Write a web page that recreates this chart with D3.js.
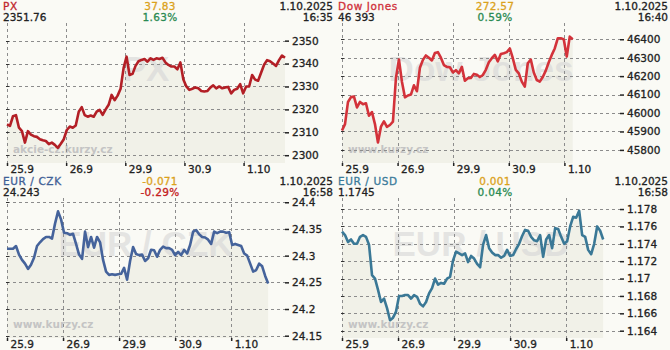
<!DOCTYPE html>
<html>
<head>
<meta charset="utf-8">
<script src="https://cdn.jsdelivr.net/npm/d3@7"></script>
<style>
  body { margin: 0; background: #fafaf5; }
  svg { display: block; }
</style>
</head>
<body>
<div id="chart"></div>
<script>
// day labels, same for all four panels
var days = ["25.9", "26.9", "29.9", "30.9", "1.10"];

// header texts
var titles = ["PX", "Dow Jones", "EUR / CZK", "EUR / USD"];
var lastValues = ["2351.76", "46 393", "24.243", "1.1745"];
var changes = ["37.83", "272.57", "-0.071", "0.001"];
var percents = ["1.63%", "0.59%", "-0.29%", "0.04%"];
var dates = ["1.10.2025", "1.10.2025", "1.10.2025", "1.10.2025"];
var times = ["16:35", "16:40", "16:58", "16:58"];
var sources = ["akcie-cz.kurzy.cz", "www.kurzy.cz", "www.kurzy.cz", "www.kurzy.cz"];

// PX index, evenly spaced samples
var pxValues = [
  2313.5, 2312.8, 2317, 2317.5, 2312, 2310.5, 2305.5, 2310.5, 2309, 2308.3,
  2308, 2307, 2306.5, 2306.2, 2304.8, 2305.5, 2304.5, 2303.2, 2305, 2307,
  2311, 2312.5, 2312, 2313, 2319, 2321, 2317.5, 2316.8, 2317.3, 2316.8,
  2319, 2319.8, 2317.6, 2320, 2322, 2326.3, 2324, 2326, 2329, 2338,
  2343, 2335, 2335.5, 2339, 2341, 2341.6, 2342, 2340.8, 2342.3, 2341.6,
  2342.3, 2342, 2342.5, 2340.5, 2339.4, 2338.7, 2338.7, 2337.5, 2340.5, 2333,
  2330, 2328.5, 2329, 2329.6, 2329.2, 2328, 2327.8, 2328, 2329.5, 2330.5,
  2329.2, 2330, 2329.2, 2329.6, 2329.8, 2327, 2328.5, 2329, 2331, 2327,
  2330, 2330, 2335, 2333, 2332.5, 2336, 2339.5, 2341.5, 2341, 2340,
  2339, 2341.5, 2343.5, 2342.5
];
var pxTicks = [2300, 2310, 2320, 2330, 2340, 2350];

// Dow Jones
var djValues = [
  45905, 45940, 46060, 46086, 46089, 46030, 46060, 46048, 46053, 45985,
  46005, 45940, 45840, 45926, 45955, 45925, 45935, 45953, 46190, 46290,
  46170, 46085, 46095, 46100, 46150, 46118, 46245, 46288, 46312, 46300,
  46285, 46325, 46330, 46300, 46260, 46250, 46248, 46220, 46232, 46215,
  46250, 46175, 46189, 46190, 46212, 46208, 46195, 46206, 46234, 46275,
  46297, 46315, 46280, 46320, 46324, 46330, 46350, 46297, 46234, 46215,
  46170, 46143, 46270, 46290, 46220, 46179, 46170, 46195, 46230, 46275,
  46315, 46350, 46405, 46405, 46400, 46306, 46414, 46400
];
var djTicks = [45800, 45900, 46000, 46100, 46200, 46300, 46400];

// EUR / CZK
var czkValues = [
  24.313, 24.313, 24.313, 24.318, 24.302, 24.292, 24.285, 24.275, 24.283, 24.296,
  24.318, 24.325, 24.331, 24.335, 24.335, 24.332, 24.36, 24.383, 24.368, 24.343,
  24.342, 24.339, 24.341, 24.322, 24.302, 24.294, 24.345, 24.316, 24.335, 24.315,
  24.335, 24.325, 24.292, 24.27, 24.264, 24.265, 24.264, 24.265, 24.266, 24.277,
  24.255, 24.29, 24.316, 24.303, 24.301, 24.302, 24.29, 24.295, 24.311, 24.31,
  24.298, 24.311, 24.317, 24.314, 24.314, 24.311, 24.301, 24.307, 24.301, 24.311,
  24.304, 24.32, 24.345, 24.348, 24.34, 24.335, 24.334, 24.33, 24.322, 24.345,
  24.342, 24.345, 24.345, 24.343, 24.344, 24.32, 24.322, 24.32, 24.318, 24.304,
  24.3, 24.285, 24.27, 24.273, 24.285, 24.28, 24.262, 24.248
];
var czkTicks = [24.15, 24.2, 24.25, 24.3, 24.35, 24.4];

// EUR / USD
var usdValues = [
  1.1754, 1.1750, 1.1742, 1.1745, 1.1740, 1.1740, 1.1748, 1.1750, 1.1748, 1.1739,
  1.1704, 1.1700, 1.1687, 1.1673, 1.1677, 1.1666, 1.1652, 1.1655, 1.1662, 1.1680,
  1.1680, 1.1681, 1.1681, 1.1677, 1.1681, 1.1679, 1.1671, 1.1668, 1.1673, 1.1683,
  1.1689, 1.1700, 1.1693, 1.1695, 1.1694, 1.1700, 1.1702, 1.1721, 1.1731, 1.1729,
  1.1727, 1.1729, 1.1719, 1.1726, 1.1723, 1.1717, 1.1713, 1.1739, 1.1750, 1.1735,
  1.1730, 1.1727, 1.1727, 1.1724, 1.1726, 1.1733, 1.1726, 1.1727, 1.1734, 1.1740,
  1.1749, 1.1756, 1.1755, 1.1748, 1.1744, 1.1743, 1.1750, 1.1725, 1.1745, 1.1750,
  1.1735, 1.1758, 1.1757, 1.1748, 1.1740, 1.1743, 1.1760, 1.1771, 1.1770, 1.1778,
  1.1750, 1.1748, 1.1733, 1.1728, 1.1740, 1.1760, 1.1755, 1.1745
];
var usdTicks = [1.164, 1.166, 1.168, 1.17, 1.172, 1.174, 1.176, 1.178];

var W = 670, H = 350;
var plot = {left: 7, right: 285, top: 23, bottom: 163};
var font = "'DejaVu Sans', Verdana, sans-serif";

// span = visible days on the x axis, end = where the data stops (in days)
var panels = [
  {x: 0,   y: 0,   values: pxValues,  ticks: pxTicks,  yMin: 2296.6, yMax: 2357.7, span: 4.70, end: 4.70,
   line: "#b31f26", title: "#c0232b"},
  {x: 335, y: 0,   values: djValues,  ticks: djTicks,  yMin: 45729, yMax: 46488, span: 5.0, end: 4.15,
   line: "#d3323a", title: "#d0303a"},
  {x: 0,   y: 175, values: czkValues, ticks: czkTicks, yMin: 24.1457, yMax: 24.408, span: 4.96, end: 4.66,
   line: "#45639b", title: "#3f5f96"},
  {x: 335, y: 175, values: usdValues, ticks: usdTicks, yMin: 1.16316, yMax: 1.17927, span: 4.96, end: 4.66,
   line: "#3a7896", title: "#3a7a9a"}
];

var svg = d3.select("#chart").append("svg")
    .attr("width", W)
    .attr("height", H);

svg.append("rect")
    .attr("width", W)
    .attr("height", H)
    .attr("fill", "#fafaf5");

panels.forEach(drawPanel);

// thicker text, the original is drawn without smoothing
function heavy(sel, color) {
  sel.style("font-family", font)
     .style("font-size", "10.5px")
     .attr("fill", color)
     .attr("stroke", color)
     .attr("stroke-width", 0.3);
}

function drawPanel(p, i) {
  var g = svg.append("g")
      .attr("transform", "translate(" + p.x + "," + p.y + ")");

  var x = d3.scaleLinear().domain([0, p.span]).range([plot.left, plot.right]);
  var y = d3.scaleLinear().domain([p.yMin, p.yMax]).range([plot.bottom, plot.top]);
  var n = p.values.length;
  var px = function(d, j) { return x(p.end * j / (n - 1)); };

  // shaded area under the line
  g.append("path")
      .datum(p.values)
      .attr("fill", "#f1f1e8")
      .attr("d", d3.area().x(px).y0(plot.bottom).y1(function(d) { return y(d); }));

  // big watermark
  g.append("text")
      .attr("x", (plot.left + plot.right) / 2)
      .attr("y", 81)
      .attr("text-anchor", "middle")
      .style("font-family", "'Liberation Sans', Arial, sans-serif")
      .style("font-weight", "bold")
      .style("font-size", "35px")
      .attr("fill", "#d6d6d6")
      .attr("fill-opacity", 0.6)
      .text(titles[i]);

  // source watermark
  g.append("text")
      .attr("x", 13)
      .attr("y", 153)
      .style("font-family", font)
      .style("font-weight", "bold")
      .style("font-size", "10.5px")
      .attr("fill", "#c4c4c4")
      .text(sources[i]);

  // grid
  g.selectAll(".hgrid")
      .data(p.ticks)
    .enter().append("line")
      .attr("x1", plot.left)
      .attr("x2", plot.right)
      .attr("y1", function(d) { return Math.round(y(d)) + 0.5; })
      .attr("y2", function(d) { return Math.round(y(d)) + 0.5; })
      .attr("stroke", "#8c8c8c")
      .attr("stroke-dasharray", "3,3");

  g.selectAll(".vgrid")
      .data(days)
    .enter().append("line")
      .attr("x1", function(d, j) { return Math.round(x(j)) + 0.5; })
      .attr("x2", function(d, j) { return Math.round(x(j)) + 0.5; })
      .attr("y1", plot.top)
      .attr("y2", plot.bottom)
      .attr("stroke", "#8c8c8c")
      .attr("stroke-dasharray", "3,3");

  // little marks on the left edge
  g.selectAll(".lmark")
      .data(p.ticks)
    .enter().append("line")
      .attr("x1", plot.left - 1)
      .attr("x2", plot.left + 2)
      .attr("y1", function(d) { return Math.round(y(d)) + 0.5; })
      .attr("y2", function(d) { return Math.round(y(d)) + 0.5; })
      .attr("stroke", "#333");

  // y axis on the right
  var yAxis = g.append("g")
      .attr("transform", "translate(" + plot.right + ",0)")
      .call(d3.axisRight(y).tickValues(p.ticks).tickSize(4).tickPadding(3).tickFormat(d3.format("~g")));
  yAxis.select(".domain").remove();
  yAxis.selectAll("line").attr("stroke", "#222").attr("stroke-width", 1.5);
  heavy(yAxis.selectAll("text"), "#222");

  // x axis
  var xAxis = g.append("g")
      .attr("transform", "translate(0," + plot.bottom + ")")
      .call(d3.axisBottom(x).tickValues(d3.range(days.length)).tickSize(3)
          .tickFormat(function(j) { return days[j]; }));
  xAxis.select(".domain").remove();
  xAxis.selectAll("line").attr("stroke", "#222").attr("stroke-width", 1.5);
  xAxis.selectAll("text")
      .attr("x", 3)
      .attr("y", 3)
      .style("text-anchor", "start");
  heavy(xAxis.selectAll("text"), "#222");

  // the price line
  g.append("path")
      .datum(p.values)
      .attr("fill", "none")
      .attr("stroke", p.line)
      .attr("stroke-width", 2.6)
      .attr("stroke-linejoin", "round")
      .attr("d", d3.line().x(px).y(function(d) { return y(d); }));

  // header
  var neg = changes[i].charAt(0) == "-";
  var head = [
    {t: titles[i], x: 3, y: 10, a: "start", c: p.title, ls: 0.6},
    {t: lastValues[i], x: 3, y: 21, a: "start", c: "#222", ls: 0},
    {t: changes[i], x: 160, y: 10, a: "middle", c: "#dba21c", ls: 0.3},
    {t: percents[i], x: 160, y: 21, a: "middle", c: neg ? "#c42020" : "#2a8a52", ls: 0.3},
    {t: dates[i], x: 333, y: 10, a: "end", c: "#222", ls: 0},
    {t: times[i], x: 333, y: 21, a: "end", c: "#222", ls: 0}
  ];
  g.selectAll(".head")
      .data(head)
    .enter().append("text")
      .attr("x", function(d) { return d.x; })
      .attr("y", function(d) { return d.y; })
      .attr("text-anchor", function(d) { return d.a; })
      .style("letter-spacing", function(d) { return d.ls + "px"; })
      .text(function(d) { return d.t; })
      .each(function(d) { heavy(d3.select(this), d.c); });
}
</script>
</body>
</html>
